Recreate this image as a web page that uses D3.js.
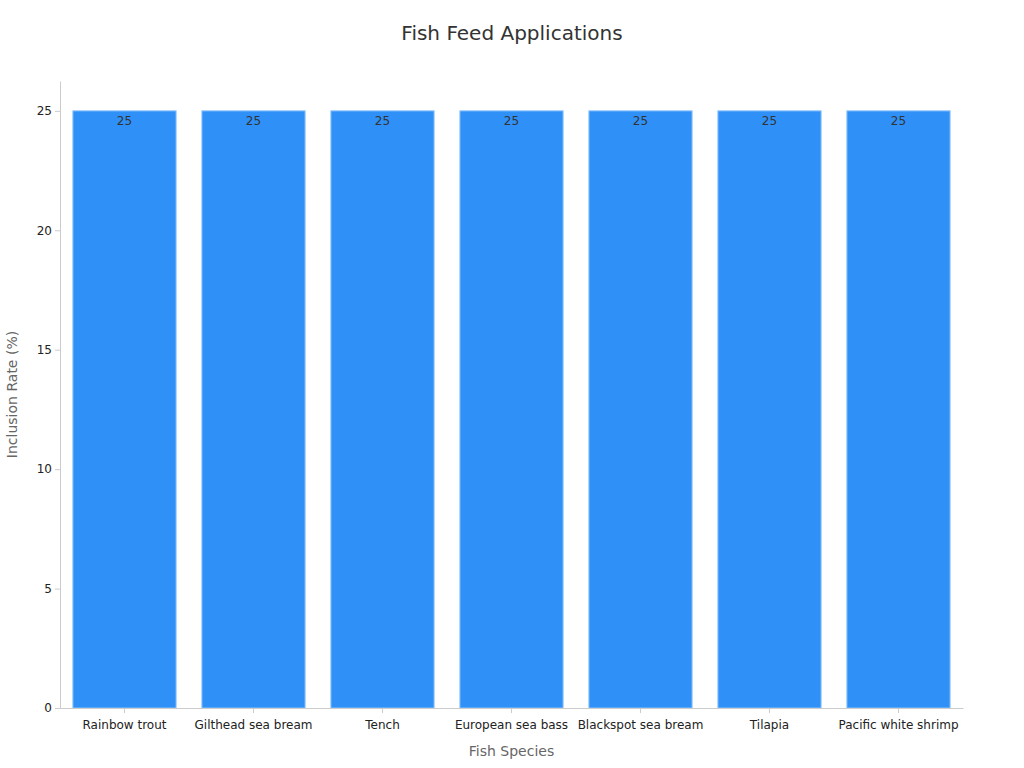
<!DOCTYPE html>
<html>
<head>
<meta charset="utf-8">
<script src="https://cdn.jsdelivr.net/npm/d3@7"></script>
<style>
  body { margin: 0; background: #fff; }
  svg { font-family: 'DejaVu Sans', sans-serif; }
  .axis path, .axis line { stroke: #ccc; }
  .axis text { fill: #222; font-size: 12px; font-family: 'DejaVu Sans', sans-serif; }
</style>
</head>
<body>
<svg id="chart"></svg>
<script>
var species = ['Rainbow trout', 'Gilthead sea bream', 'Tench', 'European sea bass',
    'Blackspot sea bream', 'Tilapia', 'Pacific white shrimp'];
var inclusion = [25, 25, 25, 25, 25, 25, 25];
var yTicks = [0, 5, 10, 15, 20, 25];

var margin = { top: 81, left: 60, bottom: 60, right: 61 },
    width = 1024 - margin.left - margin.right,
    height = 768 - margin.top - margin.bottom;

var svg = d3.select('#chart')
    .attr('width', 1024)
    .attr('height', 768);

var g = svg.append('g')
    .attr('transform', 'translate(' + margin.left + ',' + margin.top + ')');

var data = species.map((s, i) => ({ name: s, value: inclusion[i] }));

var x = d3.scaleBand()
    .domain(species)
    .range([0, width])
    .paddingInner(0.2)
    .paddingOuter(0.1);

var y = d3.scaleLinear()
    .domain([0, d3.max(inclusion) * 1.05])
    .range([height, 0]);

// bars
g.selectAll('.bar')
    .data(data)
    .enter()
    .append('rect')
    .attr('class', 'bar')
    .attr('x', d => x(d.name))
    .attr('y', d => y(d.value))
    .attr('width', x.bandwidth())
    .attr('height', d => height - y(d.value))
    .attr('fill', '#2f91f8')
    .attr('stroke', '#8fc3fb')
    .attr('stroke-width', 1);

// value labels
g.selectAll('.label')
    .data(data)
    .enter()
    .append('text')
    .attr('class', 'label')
    .attr('x', d => x(d.name) + x.bandwidth() / 2)
    .attr('y', d => y(d.value) + 14)
    .attr('text-anchor', 'middle')
    .style('font-size', '12px')
    .style('fill', '#333')
    .text(d => d.value);

// axes
var xAxis = d3.axisBottom(x).tickSize(5).tickSizeOuter(0);
g.append('g')
    .attr('class', 'axis')
    .attr('transform', 'translate(0,' + height + ')')
    .call(xAxis)
    .attr('font-family', null)
    .selectAll('text')
    .attr('dy', '1.1em');

var yAxis = d3.axisLeft(y).tickValues(yTicks).tickSize(5).tickSizeOuter(0);
g.append('g')
    .attr('class', 'axis')
    .call(yAxis)
    .attr('font-family', null);

// titles
svg.append('text')
    .attr('x', 512)
    .attr('y', 40)
    .attr('text-anchor', 'middle')
    .style('font-size', '20px')
    .style('fill', '#333')
    .text('Fish Feed Applications');

svg.append('text')
    .attr('x', margin.left + width / 2)
    .attr('y', 756)
    .attr('text-anchor', 'middle')
    .style('font-size', '14px')
    .style('fill', '#666')
    .text('Fish Species');

svg.append('text')
    .attr('transform', 'translate(17,' + (margin.top + height / 2) + ') rotate(-90)')
    .attr('text-anchor', 'middle')
    .style('font-size', '14px')
    .style('fill', '#666')
    .text('Inclusion Rate (%)');
</script>
</body>
</html>
